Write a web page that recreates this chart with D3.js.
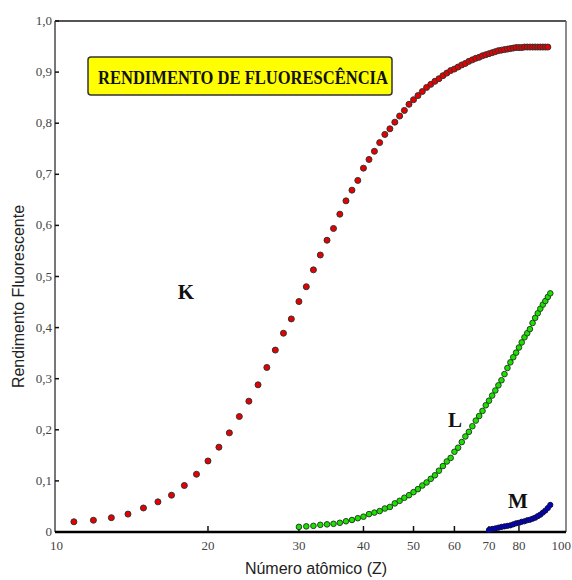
<!DOCTYPE html>
<meta charset="utf-8">
<body style="margin:0;background:#fff">
<svg width="572" height="580"></svg>

<script src="https://cdn.jsdelivr.net/npm/d3@7/dist/d3.min.js"></script>
<script>

// atomic numbers and fluorescence yields
var zK = [11,12,13,14,15,16,17,18,19,20,21,22,23,24,25,26,27,28,29,30,
          31,32,33,34,35,36,37,38,39,40,41,42,43,44,45,46,47,48,49,50,
          51,52,53,54,55,56,57,58,59,60,61,62,63,64,65,66,67,68,69,70,
          71,72,73,74,75,76,77,78,79,80,81,82,83,84,85,86,87,88,89,90,91];
var yieldK = [0.020,0.023,0.028,0.035,0.047,0.059,0.072,0.091,0.113,0.139,
              0.166,0.194,0.226,0.256,0.288,0.322,0.356,0.389,0.417,0.451,
              0.480,0.513,0.542,0.571,0.594,0.622,0.648,0.669,0.688,0.712,
              0.729,0.745,0.762,0.778,0.789,0.802,0.814,0.825,0.837,0.846,
              0.854,0.862,0.870,0.876,0.882,0.887,0.893,0.898,0.903,0.906,
              0.910,0.914,0.917,0.921,0.924,0.927,0.929,0.932,0.934,0.936,
              0.938,0.940,0.942,0.943,0.944,0.945,0.946,0.947,0.948,0.948,
              0.948,0.949,0.949,0.949,0.949,0.949,0.949,0.949,0.949,0.949,0.949];

var zL = [30,31,32,33,34,35,36,37,38,39,40,41,42,43,44,45,46,47,48,49,
          50,51,52,53,54,55,56,57,58,59,60,61,62,63,64,65,66,67,68,69,
          70,71,72,73,74,75,76,77,78,79,80,81,82,83,84,85,86,87,88,89,90,91,92];
var yieldL = [0.010,0.011,0.012,0.014,0.015,0.016,0.018,0.021,0.0235,0.027,
              0.030,0.035,0.038,0.041,0.046,0.049,0.056,0.061,0.067,0.072,
              0.078,0.084,0.091,0.097,0.104,0.111,0.120,0.129,0.138,0.145,
              0.157,0.165,0.176,0.187,0.196,0.207,0.218,0.227,0.237,0.248,
              0.257,0.267,0.277,0.287,0.297,0.309,0.321,0.332,0.342,0.351,
              0.361,0.371,0.381,0.389,0.397,0.409,0.419,0.428,0.437,0.445,
              0.452,0.460,0.467];

var zM = [70,71,72,73,74,75,76,77,78,79,80,81,82,83,84,85,86,87,88,89,90,91,92];
var yieldM = [0.004,0.006,0.007,0.0085,0.010,0.011,0.012,0.013,0.015,0.017,
              0.018,0.020,0.021,0.023,0.024,0.026,0.028,0.031,0.034,0.038,
              0.042,0.047,0.053];

var xTicks = [10,20,30,40,50,60,70,80,100];
var yTicks = [0,0.1,0.2,0.3,0.4,0.5,0.6,0.7,0.8,0.9,1.0];

var svg = d3.select("svg"),
    frame = {left: 55, top: 21, right: 566, bottom: 532};

// log scale on Z, linear on yield
var x = d3.scaleLog().domain([10, 100]).range([52.5, 569]),
    y = d3.scaleLinear().domain([0, 1]).range([frame.bottom, frame.top]);

var fmt = function(d) { return d === 0 ? "0" : d3.format(".1f")(d).replace(".", ","); };

// frame
svg.append("line")
    .attr("x1", frame.left).attr("x2", frame.right)
    .attr("y1", frame.top).attr("y2", frame.top)
    .attr("stroke", "#555").attr("stroke-width", 2);
svg.append("line")
    .attr("x1", frame.right).attr("x2", frame.right)
    .attr("y1", frame.top).attr("y2", frame.bottom)
    .attr("stroke", "#666").attr("stroke-width", 1.5);
svg.append("line")
    .attr("x1", frame.left).attr("x2", frame.left)
    .attr("y1", frame.top).attr("y2", frame.bottom)
    .attr("stroke", "#777").attr("stroke-width", 2);

// y ticks (inside) and labels
var yg = svg.append("g");
yg.selectAll("line").data(yTicks.slice(1)).enter().append("line")
    .attr("x1", frame.left).attr("x2", frame.left + 4)
    .attr("y1", function(d) { return y(d); })
    .attr("y2", function(d) { return y(d); })
    .attr("stroke", "#111").attr("stroke-width", 1.5);
yg.selectAll("text").data(yTicks).enter().append("text")
    .attr("x", frame.left - 3)
    .attr("y", function(d) { return y(d) + 4; })
    .attr("text-anchor", "end")
    .style("font", "13px 'Liberation Serif', serif")
    .attr("fill", "#444")
    .text(fmt);

// x ticks (inside) and labels
var xg = svg.append("g");
xg.selectAll("line").data(xTicks.slice(1, -1)).enter().append("line")
    .attr("x1", function(d) { return x(d); })
    .attr("x2", function(d) { return x(d); })
    .attr("y1", frame.bottom).attr("y2", frame.bottom - 6)
    .attr("stroke", "#111").attr("stroke-width", 1.5);
xg.selectAll("text").data(xTicks).enter().append("text")
    .attr("x", function(d) { return d === 10 ? x(d) + 4 : (d === 100 ? 571 : x(d)); })
    .attr("y", frame.bottom + 18)
    .attr("text-anchor", function(d) { return d === 100 ? "end" : "middle"; })
    .style("font", "13px 'Liberation Serif', serif")
    .attr("fill", "#444")
    .text(function(d) { return d; });

// bottom axis line
svg.append("line")
    .attr("x1", frame.left).attr("x2", frame.right)
    .attr("y1", frame.bottom).attr("y2", frame.bottom)
    .attr("stroke", "#000").attr("stroke-width", 2.5);

// axis titles
svg.append("text")
    .attr("transform", "translate(24," + ((frame.top + frame.bottom) / 2 + 20) + ") rotate(-90)")
    .attr("text-anchor", "middle")
    .style("font", "16px 'Liberation Sans', Arial, sans-serif")
    .attr("fill", "#222")
    .text("Rendimento Fluorescente");

svg.append("text")
    .attr("x", 316).attr("y", 574)
    .attr("text-anchor", "middle")
    .style("font", "16px 'Liberation Sans', Arial, sans-serif")
    .attr("fill", "#222")
    .text("Número atômico (Z)");

// title box
svg.append("rect")
    .attr("x", 88).attr("y", 57)
    .attr("width", 304).attr("height", 38)
    .attr("rx", 3)
    .attr("fill", "#ffff00")
    .attr("stroke", "#333").attr("stroke-width", 1.5);
svg.append("text")
    .attr("x", 243).attr("y", 84)
    .attr("text-anchor", "middle")
    .attr("textLength", 290)
    .attr("lengthAdjust", "spacingAndGlyphs")
    .style("font", "bold 19px 'Liberation Serif', serif")
    .attr("fill", "#111")
    .text("RENDIMENTO DE FLUORESCÊNCIA");

// series
function dots(zs, ys, fill, stroke, r) {
    svg.append("g").selectAll("circle")
        .data(zs.map(function(z, i) { return {z: z, v: ys[i]}; }))
        .enter().append("circle")
        .attr("cx", function(d) { return x(d.z); })
        .attr("cy", function(d) { return y(d.v); })
        .attr("r", r)
        .attr("fill", fill)
        .attr("stroke", stroke)
        .attr("stroke-width", 1);
}
dots(zK, yieldK, "#e80000", "#333", 3);
dots(zL, yieldL, "#1ee000", "#224422", 2.8);
dots(zM, yieldM, "#0000d0", "#111133", 2.6);

// shell labels
var shellFont = "bold 21px 'Liberation Serif', serif";
svg.append("text").attr("x", 186).attr("y", 299).attr("text-anchor", "middle")
    .style("font", shellFont).attr("fill", "#111").text("K");
svg.append("text").attr("x", 455).attr("y", 427).attr("text-anchor", "middle")
    .style("font", shellFont).attr("fill", "#111").text("L");
svg.append("text").attr("x", 518).attr("y", 508).attr("text-anchor", "middle")
    .style("font", shellFont).attr("fill", "#111").text("M");

</script>
</body>
